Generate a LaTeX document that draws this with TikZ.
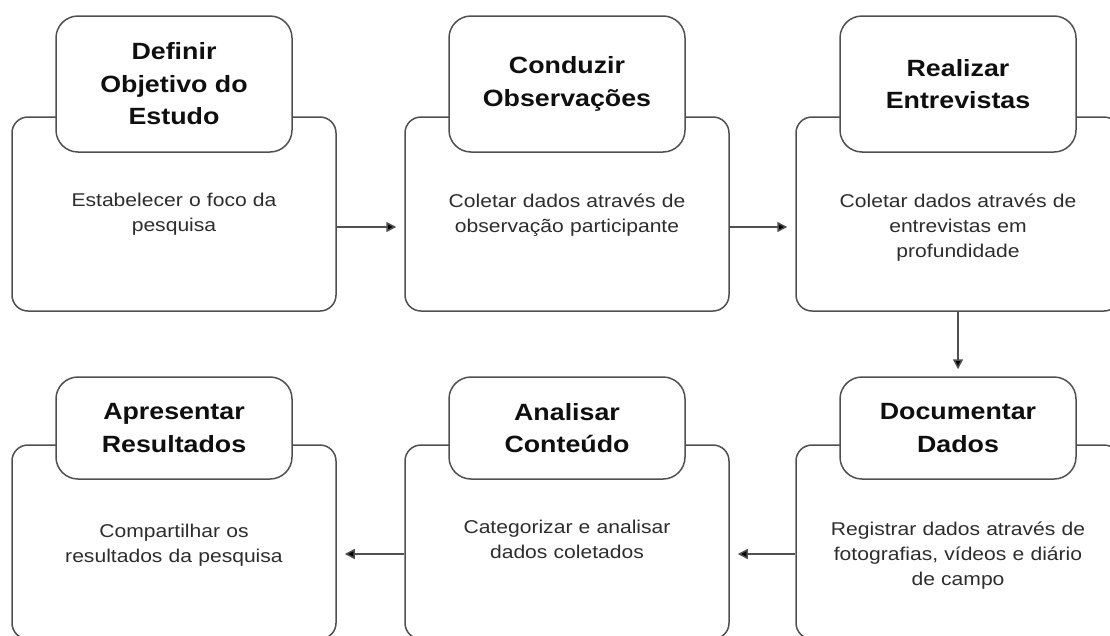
\documentclass[tikz,border=0pt]{standalone}
\usepackage{fontspec}
\setmainfont{Liberation Sans}[FakeStretch=1.14]
\usetikzlibrary{arrows.meta}
\definecolor{edge}{RGB}{80,80,80}
\definecolor{bodytxt}{RGB}{45,45,45}
\definecolor{headtxt}{RGB}{15,15,15}
\tikzset{
  bigbox/.style={draw=edge, line width=1.5pt, rounded corners=16pt, fill=white,
    minimum width=324pt, minimum height=194pt, inner sep=0pt},
  headbox/.style={draw=edge, line width=1.5pt, rounded corners=22pt, fill=white,
    minimum width=236pt, inner sep=0pt, align=center, text=headtxt,
    font=\bfseries\fontsize{23.5}{32.5}\selectfont},
  bodytext/.style={anchor=north, inner sep=0pt, text width=315pt, align=center,
    text=bodytxt, font=\fontsize{18.5}{25}\selectfont},
  arr/.style={draw=edge, line width=1.5pt, -{Triangle[length=10pt,width=10pt,fill=black]}}
}
\begin{document}
\begin{tikzpicture}[x=1pt,y=-1pt]
\clip (0,0) rectangle (1110,635);
\fill[white] (0,0) rectangle (1110,635);
% top row
\node[bigbox] (b1) at (174,214) {};
\node[bigbox] (b2) at (567,214) {};
\node[bigbox] (b3) at (958,214) {};
\node[headbox, minimum height=136pt] (h1) at (174,84) {Definir\\Objetivo do\\Estudo};
\node[headbox, minimum height=136pt] (h2) at (567,84) {Conduzir\\Observações};
\node[headbox, minimum height=136pt] (h3) at (958,84) {Realizar\\Entrevistas};
\node[bodytext] (t1) at (174,193) {Estabelecer o foco da\\pesquisa};
\node[bodytext] (t2) at (567,194) {Coletar dados através de\\observação participante};
\node[bodytext] (t3) at (958,194) {Coletar dados através de\\entrevistas em\\profundidade};
% bottom row
\node[bigbox] (b4) at (174,542) {};
\node[bigbox] (b5) at (567,542) {};
\node[bigbox] (b6) at (958,542) {};
\node[headbox, minimum height=102pt] (h4) at (174,428) {Apresentar\\Resultados};
\node[headbox, minimum height=102pt] (h5) at (567,428) {Analisar\\Conteúdo};
\node[headbox, minimum height=102pt] (h6) at (958,428) {Documentar\\Dados};
\node[bodytext] (t4) at (174,524) {Compartilhar os\\resultados da pesquisa};
\node[bodytext] (t5) at (567,520) {Categorizar e analisar\\dados coletados};
\node[bodytext] (t6) at (958,522) {Registrar dados através de\\fotografias, vídeos e diário\\de campo};
% connectors
\draw[arr] ([yshift=-13pt]b1.east) -- ([yshift=-13pt,xshift=-8pt]b2.west);
\draw[arr] ([yshift=-13pt]b2.east) -- ([yshift=-13pt,xshift=-8pt]b3.west);
\draw[arr] (b3.south) -- ([yshift=7pt]h6.north);
\draw[arr] ([yshift=-12pt]b6.west) -- ([yshift=-12pt,xshift=8pt]b5.east);
\draw[arr] ([yshift=-12pt]b5.west) -- ([yshift=-12pt,xshift=8pt]b4.east);
\end{tikzpicture}
\end{document}
